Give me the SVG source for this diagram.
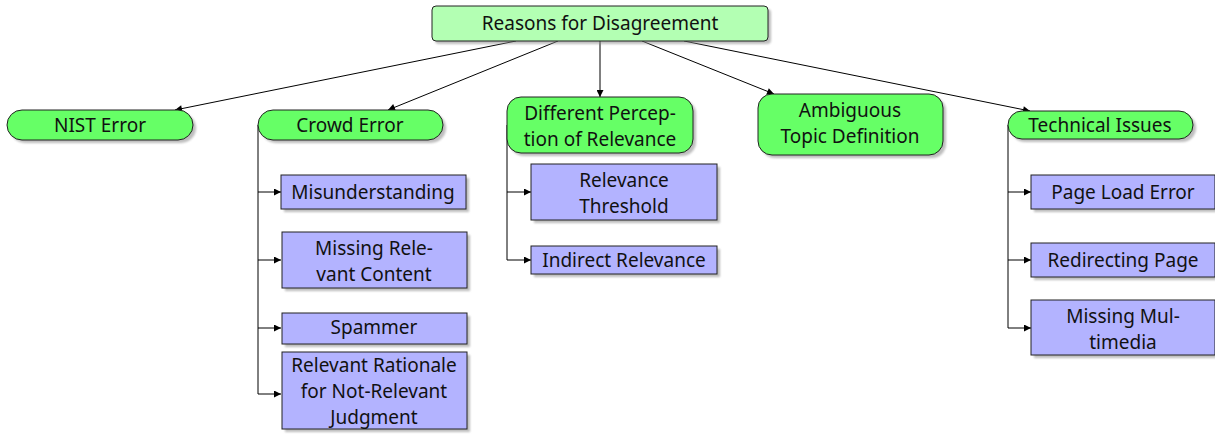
<svg xmlns="http://www.w3.org/2000/svg" width="1215" height="440" viewBox="0 0 1215 440">
<defs>
<marker id="ah" viewBox="0 0 10 10" refX="10" refY="5" markerWidth="8" markerHeight="7" markerUnits="userSpaceOnUse" orient="auto">
<path d="M0,0 L10,5 L0,10 z" fill="#000"/>
</marker>
<filter id="sh" x="-10%" y="-20%" width="130%" height="160%">
<feGaussianBlur stdDeviation="1"/>
</filter>
</defs>
<style>
text{font-family:"Noto Sans","Open Sans","DejaVu Sans",sans-serif;font-size:19px;fill:#111;text-anchor:middle}
.shadow{fill:#888;opacity:0.55;filter:url(#sh)}
.root{fill:#b3ffb3;stroke:#222;stroke-width:1}
.cat{fill:#66ff66;stroke:#222;stroke-width:1}
.leaf{fill:#b3b3ff;stroke:#222;stroke-width:1}
.edge{fill:none;stroke:#000;stroke-width:1;marker-end:url(#ah)}
.trunk{fill:none;stroke:#000;stroke-width:1}
</style>

<g id="connectors">
<line class="edge" x1="516" y1="41" x2="175" y2="110"/>
<line class="edge" x1="558" y1="41" x2="388" y2="110"/>
<line class="edge" x1="600" y1="41" x2="600" y2="97"/>
<line class="edge" x1="642" y1="41" x2="774" y2="94"/>
<line class="edge" x1="684" y1="41" x2="1030" y2="111"/>

<line class="trunk" x1="258" y1="125" x2="258" y2="394"/>
<line class="edge" x1="258" y1="192" x2="281" y2="192"/>
<line class="edge" x1="258" y1="260" x2="281" y2="260"/>
<line class="edge" x1="258" y1="328" x2="281" y2="328"/>
<line class="edge" x1="258" y1="394" x2="281" y2="394"/>

<line class="trunk" x1="507" y1="125" x2="507" y2="260"/>
<line class="edge" x1="507" y1="192" x2="531" y2="192"/>
<line class="edge" x1="507" y1="260" x2="531" y2="260"/>

<line class="trunk" x1="1008" y1="125" x2="1008" y2="328"/>
<line class="edge" x1="1008" y1="192" x2="1031" y2="192"/>
<line class="edge" x1="1008" y1="260" x2="1031" y2="260"/>
<line class="edge" x1="1008" y1="328" x2="1031" y2="328"/>
</g>

<g id="root">
<rect class="shadow" x="435" y="9" width="336" height="35" rx="4"/>
<rect class="root" x="432" y="6" width="336" height="35" rx="4"/>
<text x="600" y="30">Reasons for Disagreement</text>
</g>

<g id="nist-error">
<rect class="shadow" x="10" y="113" width="186" height="30" rx="15"/>
<rect class="cat" x="7" y="110" width="186" height="30" rx="15"/>
<text x="100" y="132">NIST Error</text>
</g>

<g id="crowd-error">
<rect class="shadow" x="261" y="113" width="185" height="30" rx="15"/>
<rect class="cat" x="258" y="110" width="185" height="30" rx="15"/>
<text x="350" y="132">Crowd Error</text>
</g>

<g id="different-perception">
<rect class="shadow" x="510" y="100" width="186" height="56" rx="14"/>
<rect class="cat" x="507" y="97" width="186" height="56" rx="14"/>
<text x="600" y="120">Different Percep-</text>
<text x="600" y="146">tion of Relevance</text>
</g>

<g id="ambiguous-topic">
<rect class="shadow" x="761" y="97" width="185" height="61" rx="14"/>
<rect class="cat" x="758" y="94" width="185" height="61" rx="14"/>
<text x="850" y="117">Ambiguous</text>
<text x="850" y="143">Topic Definition</text>
</g>

<g id="technical-issues">
<rect class="shadow" x="1011" y="114" width="185" height="28" rx="14"/>
<rect class="cat" x="1008" y="111" width="185" height="28" rx="14"/>
<text x="1100" y="132">Technical Issues</text>
</g>

<g id="misunderstanding">
<rect class="shadow" x="284" y="178" width="185" height="34"/>
<rect class="leaf" x="281" y="175" width="185" height="34"/>
<text x="373" y="199">Misunderstanding</text>
</g>

<g id="missing-relevant-content">
<rect class="shadow" x="285" y="235" width="185" height="56"/>
<rect class="leaf" x="282" y="232" width="185" height="56"/>
<text x="374" y="255">Missing Rele-</text>
<text x="374" y="281">vant Content</text>
</g>

<g id="spammer">
<rect class="shadow" x="285" y="316" width="185" height="31"/>
<rect class="leaf" x="282" y="313" width="185" height="31"/>
<text x="374" y="334">Spammer</text>
</g>

<g id="relevant-rationale">
<rect class="shadow" x="285" y="355" width="185" height="77"/>
<rect class="leaf" x="282" y="352" width="185" height="77"/>
<text x="374" y="372">Relevant Rationale</text>
<text x="374" y="398">for Not-Relevant</text>
<text x="374" y="424">Judgment</text>
</g>

<g id="relevance-threshold">
<rect class="shadow" x="534" y="167" width="186" height="56"/>
<rect class="leaf" x="531" y="164" width="186" height="56"/>
<text x="624" y="187">Relevance</text>
<text x="624" y="213">Threshold</text>
</g>

<g id="indirect-relevance">
<rect class="shadow" x="534" y="249" width="186" height="28"/>
<rect class="leaf" x="531" y="246" width="186" height="28"/>
<text x="624" y="267">Indirect Relevance</text>
</g>

<g id="page-load-error">
<rect class="shadow" x="1034" y="178" width="184" height="34"/>
<rect class="leaf" x="1031" y="175" width="184" height="34"/>
<text x="1123" y="199">Page Load Error</text>
</g>

<g id="redirecting-page">
<rect class="shadow" x="1034" y="246" width="184" height="34"/>
<rect class="leaf" x="1031" y="243" width="184" height="34"/>
<text x="1123" y="267">Redirecting Page</text>
</g>

<g id="missing-multimedia">
<rect class="shadow" x="1034" y="303" width="184" height="55"/>
<rect class="leaf" x="1031" y="300" width="184" height="55"/>
<text x="1123" y="323">Missing Mul-</text>
<text x="1123" y="349">timedia</text>
</g>
</svg>
